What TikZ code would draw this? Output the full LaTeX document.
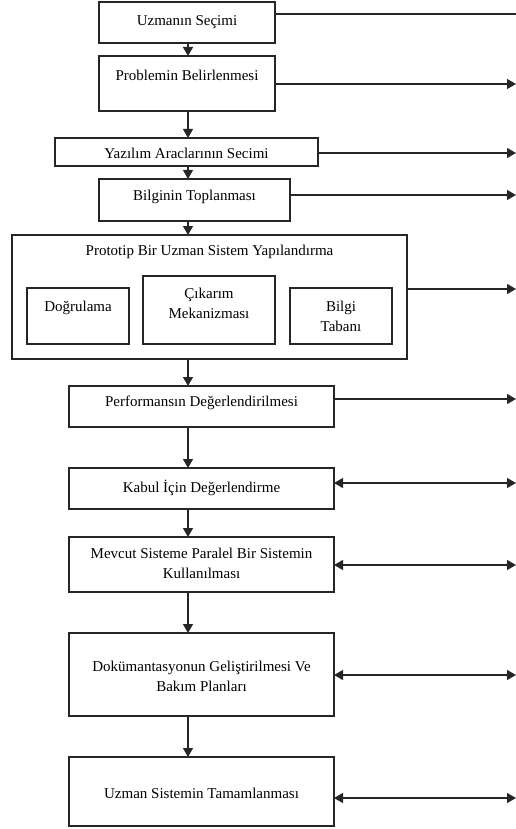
\documentclass[tikz,border=0pt]{standalone}
\usepackage{fontspec}
\setmainfont{Liberation Serif}
\usetikzlibrary{arrows.meta}
\begin{document}
\begin{tikzpicture}[x=1pt,y=-1pt,
  box/.style={draw=black!85,line width=1.2pt,inner sep=0pt,outer sep=0pt},
  txt/.style={inner sep=0pt,align=center,font=\fontsize{15}{20}\selectfont},
  conn/.style={line width=1.2pt,draw=black!85},
  tip/.style={-{Triangle[width=10pt,length=9pt]}},
  dtip/.style={{Triangle[width=10pt,length=9pt]}-{Triangle[width=10pt,length=9pt]}}]
\useasboundingbox[fill=white] (0,0) rectangle (516,829);
% main boxes
\node[box,minimum width=176pt,minimum height=41pt] (b1) at (187,22.5) {};
\node[txt] (t1) at (187,22) {Uzmanın Seçimi};
\node[box,minimum width=176pt,minimum height=55pt] (b2) at (187,83.5) {};
\node[txt] (t2) at (187,75) {Problemin Belirlenmesi};
\node[box,minimum width=263pt,minimum height=28pt] (b3) at (186.5,152) {};
\node[txt] (t3) at (186.5,153) {Yazılım Araclarının Secimi};
\node[box,minimum width=191pt,minimum height=42pt] (b4) at (194.5,200) {};
\node[txt] (t4) at (194.5,197) {Bilginin Toplanması};
\node[box,minimum width=395pt,minimum height=124pt] (b5) at (209.5,297) {};
\node[txt] (t5) at (209.5,252) {Prototip Bir Uzman Sistem Yapılandırma};
\node[box,minimum width=102pt,minimum height=56pt] (d1) at (78,316) {};
\node[txt] (s1) at (78,308) {Doğrulama};
\node[box,minimum width=132pt,minimum height=68pt] (d2) at (209,310) {};
\node[txt] (s2) at (209,303) {Çıkarım\\Mekanizması};
\node[box,minimum width=102pt,minimum height=56pt] (d3) at (341,316) {};
\node[txt] (s3) at (341,316.5) {Bilgi\\Tabanı};
\node[box,minimum width=265pt,minimum height=41pt] (b6) at (201.5,406.5) {};
\node[txt] (t6) at (201.5,403) {Performansın Değerlendirilmesi};
\node[box,minimum width=265pt,minimum height=41pt] (b7) at (201.5,488.5) {};
\node[txt] (t7) at (201.5,488) {Kabul İçin Değerlendirme};
\node[box,minimum width=265pt,minimum height=55pt] (b8) at (201.5,564.5) {};
\node[txt] (t8) at (201.5,563) {Mevcut Sisteme Paralel Bir Sistemin\\Kullanılması};
\node[box,minimum width=265pt,minimum height=83pt] (b9) at (201.5,674.5) {};
\node[txt] (t9) at (201.5,676.5) {Dokümantasyonun Geliştirilmesi Ve\\Bakım Planları};
\node[box,minimum width=265pt,minimum height=69pt] (b10) at (201.5,791.5) {};
\node[txt] (t10) at (201.5,793) {Uzman Sistemin Tamamlanması};
% vertical flow
\coordinate (ax) at (188,0);
\draw[conn,tip] (b1.south -| ax) -- (b2.north -| ax);
\draw[conn,tip] (b2.south -| ax) -- (b3.north -| ax);
\draw[conn,tip] (b3.south -| ax) -- (b4.north -| ax);
\draw[conn,tip] (b4.south -| ax) -- (b5.north -| ax);
\draw[conn,tip] (b5.south -| ax) -- (b6.north -| ax);
\draw[conn,tip] (b6.south -| ax) -- (b7.north -| ax);
\draw[conn,tip] (b7.south -| ax) -- (b8.north -| ax);
\draw[conn,tip] (b8.south -| ax) -- (b9.north -| ax);
\draw[conn,tip] (b9.south -| ax) -- (b10.north -| ax);
% right-hand connectors
\coordinate (r1) at (516,14);
\coordinate (r2) at (516,84);
\coordinate (r3) at (516,153);
\coordinate (r4) at (516,195);
\coordinate (r5) at (516,289);
\coordinate (r6) at (516,399);
\coordinate (r7) at (516,483);
\coordinate (r8) at (516,565);
\coordinate (r9) at (516,675);
\coordinate (r10) at (516,798);
\draw[conn] (r1 -| b1.east) -- (r1);
\draw[conn,tip] (r2 -| b2.east) -- (r2);
\draw[conn,tip] (r3 -| b3.east) -- (r3);
\draw[conn,tip] (r4 -| b4.east) -- (r4);
\draw[conn,tip] (r5 -| b5.east) -- (r5);
\draw[conn,tip] (r6 -| b6.east) -- (r6);
\draw[conn,dtip] (r7 -| b7.east) -- (r7);
\draw[conn,dtip] (r8 -| b8.east) -- (r8);
\draw[conn,dtip] (r9 -| b9.east) -- (r9);
\draw[conn,dtip] (r10 -| b10.east) -- (r10);
\end{tikzpicture}
\end{document}
